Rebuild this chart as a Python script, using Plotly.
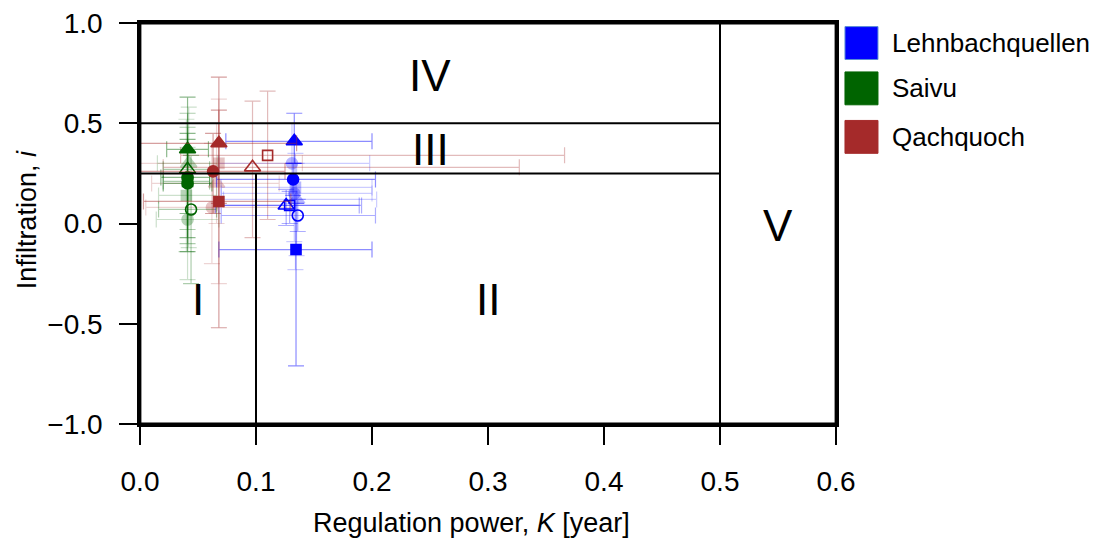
import plotly.graph_objects as go

# ---------------- data ----------------
SITES = ["Lehnbachquellen", "Saivu", "Qachquoch"]
SITE_COLORS = ["#0000FF", "#006400", "#A52A2A"]
SITE_RGB = ["0,0,255", "0,100,0", "165,42,42"]

# Lehnbachquellen
LEHN_FILLED_SYM = ["triangle-up", "circle", "square"]
LEHN_FILLED_K = [0.133, 0.132, 0.1345]
LEHN_FILLED_I = [0.41, 0.22, -0.13]
LEHN_FILLED_KLO = [0.074, 0.066, 0.068]
LEHN_FILLED_KHI = [0.200, 0.203, 0.200]
LEHN_FILLED_ILO = [0.30, 0.14, -0.71]
LEHN_FILLED_IHI = [0.55, 0.30, 0.10]

LEHN_OPEN_SYM = ["circle-open", "triangle-up-open", "square-open"]
LEHN_OPEN_K = [0.136, 0.126, 0.129]
LEHN_OPEN_I = [0.04, 0.09, 0.09]
LEHN_OPEN_KLO = [0.070, 0.065, 0.068]
LEHN_OPEN_KHI = [0.203, 0.189, 0.191]
LEHN_OPEN_ILO = [-0.04, -0.01, 0.00]
LEHN_OPEN_IHI = [0.12, 0.17, 0.16]

LEHN_FADED_SYM = ["circle", "triangle-up", "square", "circle"]
LEHN_FADED_K = [0.133, 0.135, 0.134, 0.131]
LEHN_FADED_I = [0.15, 0.12, 0.18, 0.30]
LEHN_FADED_KLO = [0.070, 0.072, 0.070, 0.068]
LEHN_FADED_KHI = [0.200, 0.204, 0.200, 0.198]
LEHN_FADED_ILO = [-0.09, -0.16, -0.23, 0.10]
LEHN_FADED_IHI = [0.40, 0.30, 0.35, 0.50]

# Saivu
SAIVU_FILLED_SYM = ["triangle-up", "circle", "circle"]
SAIVU_FILLED_K = [0.041, 0.041, 0.041]
SAIVU_FILLED_I = [0.37, 0.23, 0.20]
SAIVU_FILLED_KLO = [0.023, 0.018, 0.020]
SAIVU_FILLED_KHI = [0.059, 0.060, 0.062]
SAIVU_FILLED_ILO = [0.05, -0.14, -0.07]
SAIVU_FILLED_IHI = [0.63, 0.45, 0.42]

SAIVU_OPEN_SYM = ["circle-open", "triangle-up-open", "square-open"]
SAIVU_OPEN_K = [0.044, 0.041, 0.041]
SAIVU_OPEN_I = [0.07, 0.27, 0.21]
SAIVU_OPEN_KLO = [0.016, 0.020, 0.020]
SAIVU_OPEN_KHI = [0.066, 0.060, 0.060]
SAIVU_OPEN_ILO = [-0.30, -0.03, -0.10]
SAIVU_OPEN_IHI = [0.34, 0.55, 0.48]

SAIVU_FADED_SYM = ["circle", "triangle-up", "square"]
SAIVU_FADED_K = [0.041, 0.042, 0.040]
SAIVU_FADED_I = [0.02, 0.30, 0.14]
SAIVU_FADED_KLO = [0.014, 0.015, 0.016]
SAIVU_FADED_KHI = [0.068, 0.067, 0.066]
SAIVU_FADED_ILO = [-0.28, -0.12, -0.14]
SAIVU_FADED_IHI = [0.38, 0.58, 0.52]

# Qachquoch
QACH_FILLED_SYM = ["triangle-up", "circle", "square"]
QACH_FILLED_K = [0.068, 0.063, 0.068]
QACH_FILLED_I = [0.40, 0.26, 0.11]
QACH_FILLED_KLO = [-0.02, -0.02, 0.003]
QACH_FILLED_KHI = [0.135, 0.125, 0.130]
QACH_FILLED_ILO = [0.10, 0.05, -0.52]
QACH_FILLED_IHI = [0.73, 0.45, 0.565]

QACH_OPEN_SYM = ["triangle-up-open", "square-open"]
QACH_OPEN_K = [0.097, 0.110]
QACH_OPEN_I = [0.28, 0.34]
QACH_OPEN_KLO = [0.020, 0.035]
QACH_OPEN_KHI = [0.327, 0.366]
QACH_OPEN_ILO = [-0.07, 0.02]
QACH_OPEN_IHI = [0.61, 0.66]

QACH_FADED_SYM = ["square", "circle", "triangle-up"]
QACH_FADED_K = [0.068, 0.062, 0.066]
QACH_FADED_I = [0.30, 0.08, 0.20]
QACH_FADED_KLO = [0.000, 0.005, 0.010]
QACH_FADED_KHI = [0.140, 0.130, 0.120]
QACH_FADED_ILO = [-0.30, -0.20, 0.00]
QACH_FADED_IHI = [0.62, 0.40, 0.50]

# regime boundaries and labels
K_SPLIT = [0.1, 0.5]
I_SPLIT = [0.25, 0.5]
REGION_LABELS = ["I", "II", "III", "IV", "V"]
REGION_K = [0.05, 0.30, 0.25, 0.25, 0.55]
REGION_I = [-0.38, -0.38, 0.37, 0.74, -0.01]

X_TICKS = [0.0, 0.1, 0.2, 0.3, 0.4, 0.5, 0.6]
Y_TICKS = [-1.0, -0.5, 0.0, 0.5, 1.0]

# ---------------- figure ----------------
FONT = "Liberation Sans, Arial, sans-serif"
fig = go.Figure()

groups = [
    (0, "faded", LEHN_FADED_SYM, LEHN_FADED_K, LEHN_FADED_I, LEHN_FADED_KLO, LEHN_FADED_KHI, LEHN_FADED_ILO, LEHN_FADED_IHI),
    (1, "faded", SAIVU_FADED_SYM, SAIVU_FADED_K, SAIVU_FADED_I, SAIVU_FADED_KLO, SAIVU_FADED_KHI, SAIVU_FADED_ILO, SAIVU_FADED_IHI),
    (2, "faded", QACH_FADED_SYM, QACH_FADED_K, QACH_FADED_I, QACH_FADED_KLO, QACH_FADED_KHI, QACH_FADED_ILO, QACH_FADED_IHI),
    (2, "open", QACH_OPEN_SYM, QACH_OPEN_K, QACH_OPEN_I, QACH_OPEN_KLO, QACH_OPEN_KHI, QACH_OPEN_ILO, QACH_OPEN_IHI),
    (1, "open", SAIVU_OPEN_SYM, SAIVU_OPEN_K, SAIVU_OPEN_I, SAIVU_OPEN_KLO, SAIVU_OPEN_KHI, SAIVU_OPEN_ILO, SAIVU_OPEN_IHI),
    (0, "open", LEHN_OPEN_SYM, LEHN_OPEN_K, LEHN_OPEN_I, LEHN_OPEN_KLO, LEHN_OPEN_KHI, LEHN_OPEN_ILO, LEHN_OPEN_IHI),
    (0, "filled", LEHN_FILLED_SYM, LEHN_FILLED_K, LEHN_FILLED_I, LEHN_FILLED_KLO, LEHN_FILLED_KHI, LEHN_FILLED_ILO, LEHN_FILLED_IHI),
    (1, "filled", SAIVU_FILLED_SYM, SAIVU_FILLED_K, SAIVU_FILLED_I, SAIVU_FILLED_KLO, SAIVU_FILLED_KHI, SAIVU_FILLED_ILO, SAIVU_FILLED_IHI),
    (2, "filled", QACH_FILLED_SYM, QACH_FILLED_K, QACH_FILLED_I, QACH_FILLED_KLO, QACH_FILLED_KHI, QACH_FILLED_ILO, QACH_FILLED_IHI),
]

err_alpha = {"faded": 0.2, "open": 0.32, "filled": 0.45}
mk_opacity = {"faded": 0.28, "open": 1.0, "filled": 1.0}


def sym_size(s):
    if s.startswith("triangle"):
        return 14
    if s.startswith("square"):
        return 10
    return 11


for si, kind, sym, K, I, Klo, Khi, Ilo, Ihi in groups:
    col = SITE_COLORS[si]
    ecol = f"rgba({SITE_RGB[si]},{err_alpha[kind]})"
    fig.add_trace(go.Scatter(
        x=K, y=I, mode="markers", showlegend=False, name=SITES[si],
        marker=dict(symbol=sym, size=[sym_size(s) for s in sym], color=col,
                    opacity=mk_opacity[kind], line=dict(color=col, width=1.6)),
        error_x=dict(type="data", symmetric=False,
                     array=[h - k for h, k in zip(Khi, K)],
                     arrayminus=[k - l for k, l in zip(K, Klo)],
                     color=ecol, thickness=1.2, width=8),
        error_y=dict(type="data", symmetric=False,
                     array=[h - v for h, v in zip(Ihi, I)],
                     arrayminus=[v - l for v, l in zip(I, Ilo)],
                     color=ecol, thickness=1.2, width=8),
    ))

# regime boundary lines
line = dict(color="black", width=2)
fig.add_shape(type="line", x0=X_TICKS[0], x1=K_SPLIT[1], y0=I_SPLIT[1], y1=I_SPLIT[1], line=line)
fig.add_shape(type="line", x0=X_TICKS[0], x1=K_SPLIT[1], y0=I_SPLIT[0], y1=I_SPLIT[0], line=line)
fig.add_shape(type="line", x0=K_SPLIT[0], x1=K_SPLIT[0], y0=Y_TICKS[0], y1=I_SPLIT[0], line=line)
fig.add_shape(type="line", x0=K_SPLIT[1], x1=K_SPLIT[1], y0=Y_TICKS[0], y1=Y_TICKS[-1], line=line)

# plot frame
fig.add_shape(type="rect", xref="paper", yref="paper", x0=0, x1=1, y0=0, y1=1,
              line=dict(color="black", width=2.8), fillcolor="rgba(0,0,0,0)", layer="above")

for lab, kx, iy in zip(REGION_LABELS, REGION_K, REGION_I):
    fig.add_annotation(x=kx, y=iy, text=lab, showarrow=False,
                       font=dict(family=FONT, size=44, color="black"))

# manual legend (squares + labels)
leg_y = [0.950, 0.837, 0.716]
for name, col, yc in zip(SITES, SITE_COLORS, leg_y):
    fig.add_shape(type="rect", xref="paper", yref="paper",
                  x0=1.0129, x1=1.0603, y0=yc - 0.041, y1=yc + 0.041,
                  fillcolor=col, line=dict(color="#5b8fd6" if col == "#0000FF" else col, width=1))
    fig.add_annotation(xref="paper", yref="paper", x=1.0776, y=yc, text=name,
                       showarrow=False, xanchor="left", yanchor="middle",
                       font=dict(family=FONT, size=26, color="black"))

# axis titles
fig.add_annotation(xref="paper", yref="paper", x=0.4756, y=-0.247,
                   text="Regulation power, <i>K</i> [year]", showarrow=False,
                   xanchor="center", yanchor="middle",
                   font=dict(family=FONT, size=27, color="black"))
fig.add_annotation(xref="paper", yref="paper", x=-0.162, y=0.509,
                   text="Infiltration, <i>i</i>", showarrow=False, textangle=-90,
                   xanchor="center", yanchor="middle",
                   font=dict(family=FONT, size=27, color="black"))

axis_common = dict(showgrid=False, zeroline=False, showline=True, mirror=True,
                   linecolor="black", linewidth=2.5, ticks="outside", ticklen=18,
                   tickwidth=2, tickcolor="black", automargin=False,
                   tickfont=dict(family=FONT, size=28, color="black"))
fig.update_xaxes(range=[X_TICKS[0], X_TICKS[-1]], tickvals=X_TICKS, tickformat=".1f",
                 ticklabelstandoff=13, **axis_common)
fig.update_yaxes(range=[Y_TICKS[0], Y_TICKS[-1]], tickvals=Y_TICKS, tickformat=".1f",
                 ticklabelstandoff=11, **axis_common)

fig.update_layout(width=1101, height=545, margin=dict(l=140, r=265, t=23, b=121),
                  plot_bgcolor="white", paper_bgcolor="white", showlegend=False,
                  font=dict(family=FONT, color="black"))

# remove the default 8px page margin so the figure sits at the window's origin
fig.write_html("out.html", config={"displayModeBar": False},
               post_script="document.body.style.margin='0';")
